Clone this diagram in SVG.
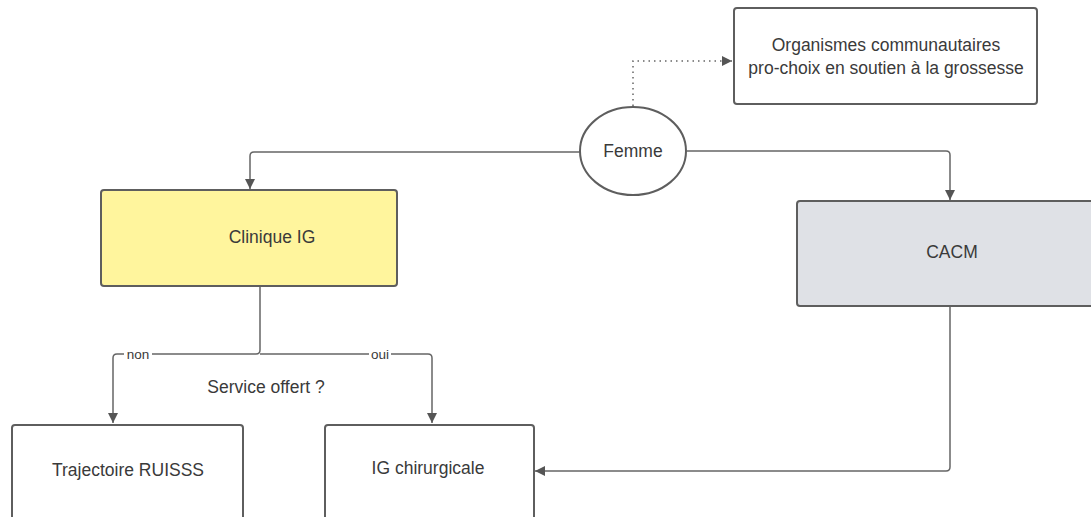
<svg xmlns="http://www.w3.org/2000/svg" width="1091" height="517" viewBox="0 0 1091 517">
<style>
.box{stroke:#5e5e5e;stroke-width:2;}
.t{font-family:"Liberation Sans",Arial,sans-serif;font-size:17.5px;fill:#3a3a3a;text-anchor:middle;dominant-baseline:central;}
.lbl{font-family:"Liberation Sans",Arial,sans-serif;font-size:13.5px;fill:#3a3a3a;text-anchor:middle;dominant-baseline:central;}
.c{fill:none;stroke:#666;stroke-width:1.5;}
</style>
<defs>
<marker id="ah" viewBox="0 0 10 10" refX="10" refY="5" markerWidth="10" markerHeight="10" markerUnits="userSpaceOnUse" orient="auto">
<path d="M0,0 L10,5 L0,10 z" fill="#555"/>
</marker>
</defs>
<rect width="1091" height="517" fill="#fff"/>
<g id="connectors">
<path class="c" d="M633,106 L633,61 L732,61" stroke-dasharray="1.5,4" marker-end="url(#ah)"/>
<path class="c" d="M580,152 L254,152 Q250,152 250,156 L250,189" marker-end="url(#ah)"/>
<path class="c" d="M687,151 L946,151 Q950,151 950,155 L950,200" marker-end="url(#ah)"/>
<path class="c" d="M260,287 L260,350 Q260,354 256,354 L117,354 Q113,354 113,358 L113,423" marker-end="url(#ah)"/>
<path class="c" d="M260,354 L428,354 Q432,354 432,358 L432,423" marker-end="url(#ah)"/>
<path class="c" d="M950,307 L950,467 Q950,471 946,471 L535,471" marker-end="url(#ah)"/>
<rect x="124" y="347" width="28" height="14" fill="#fff"/>
<text class="lbl" x="138" y="354">non</text>
<rect x="369" y="347" width="22" height="14" fill="#fff"/>
<text class="lbl" x="380" y="354">oui</text>
<text class="t" x="266" y="387">Service offert ?</text>
</g>
<g id="organismes">
<rect class="box" x="734" y="8" width="303" height="96" rx="3" fill="#fff"/>
<text class="t" x="886" y="45">Organismes communautaires</text>
<text class="t" x="886" y="68">pro-choix en soutien à la grossesse</text>
</g>
<g id="femme">
<ellipse class="box" cx="633" cy="151" rx="53" ry="44" fill="#fff"/>
<text class="t" x="633" y="151">Femme</text>
</g>
<g id="clinique">
<rect class="box" x="101" y="190" width="296" height="96" rx="3" fill="#fff59d"/>
<text class="t" x="272" y="237">Clinique IG</text>
</g>
<g id="cacm">
<rect class="box" x="797" y="201" width="310" height="105" rx="3" fill="#dfe1e6"/>
<text class="t" x="952" y="252">CACM</text>
</g>
<g id="trajectoire">
<rect class="box" x="12" y="425" width="231" height="100" rx="3" fill="#fff"/>
<text class="t" x="128" y="470">Trajectoire RUISSS</text>
</g>
<g id="igchir">
<rect class="box" x="325" y="425" width="209" height="100" rx="3" fill="#fff"/>
<text class="t" x="428" y="468">IG chirurgicale</text>
</g>
</svg>
